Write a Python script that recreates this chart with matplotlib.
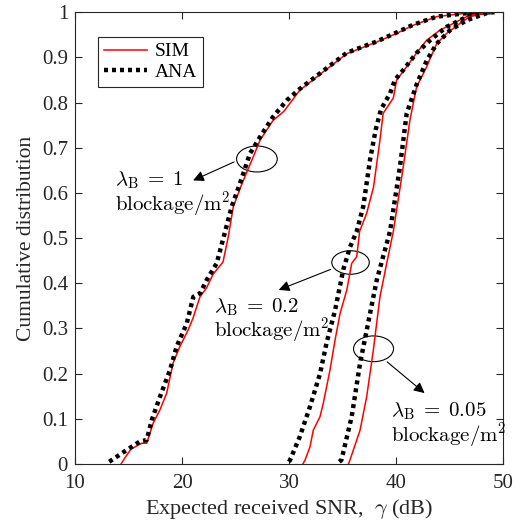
import matplotlib
matplotlib.use("Agg")
import matplotlib.pyplot as plt
from matplotlib.patches import Ellipse

plt.rcParams.update({
    "font.family": "Liberation Serif",
    "mathtext.fontset": "cm",
    "font.size": 15,
    "axes.linewidth": 0.8,
    "xtick.direction": "in",
    "ytick.direction": "in",
    "xtick.top": True,
    "ytick.right": True,
})

# ---- data (SNR in dB, CDF) ----
sim1_x = [14.3, 14.7, 15.23, 16.23, 16.7, 17.3, 17.94, 18.57, 19.16, 19.8, 20.56, 21.03,
          21.68, 22.3, 22.9, 23.83, 24.3, 24.8, 25.6, 26.66, 27.3, 28.5, 29.5, 31.0,
          33.2, 35.4, 38.2, 40.06, 41.6, 43.8, 46.3, 49.07]
sim1_y = [0, 0.015, 0.033, 0.046, 0.046, 0.09, 0.12, 0.157, 0.223, 0.26, 0.296, 0.323,
          0.37, 0.39, 0.42, 0.447, 0.5, 0.57, 0.62, 0.68, 0.717, 0.76, 0.78, 0.827,
          0.868, 0.908, 0.934, 0.953, 0.971, 0.99, 0.997, 1.0]
ana1_x = [13.2, 14.83, 16.07, 16.7, 17.17, 17.94, 18.88, 19.5, 20.44, 21.06, 21.7, 22.3,
          23.24, 23.9, 24.65, 25.4, 26.35, 27.3, 28.5, 29.8, 31.0, 33.2, 35.4, 38.2,
          40.06, 41.6, 43.8, 46.3, 49.07]
ana1_y = [0.005, 0.031, 0.05, 0.053, 0.097, 0.149, 0.208, 0.26, 0.311, 0.37, 0.378, 0.407,
          0.444, 0.503, 0.57, 0.62, 0.687, 0.724, 0.768, 0.805, 0.83, 0.87, 0.91, 0.935,
          0.955, 0.972, 0.99, 0.997, 1.0]

sim02_x = [31.3, 31.5, 31.96, 32.27, 32.9, 33.2, 33.83, 34.3, 34.77, 35.4, 35.86, 36.33,
           36.6, 37.26, 37.9, 38.5, 38.8, 39.75, 40.06, 41.0, 41.9, 42.87, 44.1, 45.36,
           46.6, 47.85, 49.0]
sim02_y = [0, 0.009, 0.038, 0.075, 0.105, 0.134, 0.208, 0.274, 0.333, 0.385, 0.444, 0.459,
           0.515, 0.555, 0.613, 0.717, 0.776, 0.81, 0.85, 0.879, 0.909, 0.938, 0.96, 0.975,
           0.99, 0.998, 1.0]
ana02_x = [30.0, 30.1, 31.0, 31.96, 32.9, 33.5, 34.3, 35.07, 35.7, 36.33, 36.94, 37.57,
           38.1, 38.6, 39.44, 39.9, 40.68, 41.9, 43.2, 44.7, 45.98, 47.2, 48.5]
ana02_y = [0.005, 0.009, 0.06, 0.127, 0.2, 0.267, 0.34, 0.43, 0.48, 0.515, 0.57, 0.673,
           0.74, 0.785, 0.82, 0.85, 0.872, 0.909, 0.938, 0.967, 0.982, 0.997, 1.0]

sim005_x = [35.55, 35.7, 36.64, 37.26, 37.88, 38.5, 39.13, 39.75, 40.68, 41.3, 41.93,
            42.87, 43.18, 43.8, 44.74, 45.98, 46.9, 48.5, 49.3]
sim005_y = [0, 0.009, 0.075, 0.149, 0.252, 0.37, 0.444, 0.515, 0.658, 0.761, 0.835,
            0.879, 0.897, 0.93, 0.953, 0.975, 0.99, 0.998, 1.0]
ana005_x = [34.7, 34.9, 35.86, 36.64, 37.26, 38.2, 39.13, 39.44, 40.37, 41.0, 41.93,
            42.87, 43.8, 45.05, 46.6, 48.5, 49.2]
ana005_y = [0.005, 0.009, 0.105, 0.223, 0.296, 0.407, 0.488, 0.515, 0.658, 0.776, 0.84,
            0.893, 0.93, 0.96, 0.982, 0.998, 1.0]

x_ticks = [10, 20, 30, 40, 50]
y_ticks = [0, 0.1, 0.2, 0.3, 0.4, 0.5, 0.6, 0.7, 0.8, 0.9, 1]
y_ticklabels = ["0", "0.1", "0.2", "0.3", "0.4", "0.5", "0.6", "0.7", "0.8", "0.9", "1"]

fig = plt.figure(figsize=(5.26, 5.27), dpi=100)
ax = fig.add_axes([0.1426, 0.1195, 0.8137, 0.8575])

sim_kw = dict(color="red", linewidth=1.1)
ana_kw = dict(color="black", linewidth=3.2, linestyle=(0, (0.9, 0.9)), dash_capstyle="butt")

ax.plot(sim1_x, sim1_y, label="SIM", **sim_kw)
ax.plot(ana1_x, ana1_y, label="ANA", **ana_kw)
ax.plot(sim02_x, sim02_y, **sim_kw)
ax.plot(ana02_x, ana02_y, **ana_kw)
ax.plot(sim005_x, sim005_y, **sim_kw)
ax.plot(ana005_x, ana005_y, **ana_kw)

ax.set_xlim(10, 50)
ax.set_ylim(0, 1)
ax.set_xticks(x_ticks)
ax.set_yticks(y_ticks)
ax.set_yticklabels(y_ticklabels)
ax.tick_params(length=5, width=0.8, colors="0.15", labelcolor="0.15", labelsize=15)
ax.tick_params(axis="x", pad=7)
ax.tick_params(axis="y", pad=5)
for s in ax.spines.values():
    s.set_color("0.15")

ax.set_xlabel(r"Expected received SNR,  $\gamma$ (dB)", fontsize=16, color="0.15", labelpad=3)
ax.set_ylabel("Cumulative distribution", fontsize=15.5, color="0.15")

leg = ax.legend(loc="upper left", bbox_to_anchor=(0.054, 0.945), fontsize=14,
                fancybox=False, edgecolor="0.15", framealpha=1, handlelength=2.2,
                borderpad=0.3, labelspacing=0.15, handletextpad=0.4, borderaxespad=0)
leg.get_frame().set_linewidth(0.8)

# annotations
arrow_kw = dict(arrowstyle="-|>", color="black", lw=0.8, mutation_scale=16)
for center, w, h in [((27.0, 0.675), 3.8, 0.0575),
                     ((35.75, 0.446), 3.5, 0.052),
                     ((37.9, 0.255), 3.74, 0.057)]:
    ax.add_patch(Ellipse(center, w, h, fill=False, edgecolor="black", lw=0.8))

ax.annotate("", xy=(20.8, 0.625), xytext=(25.1, 0.671), arrowprops=arrow_kw)
ax.annotate("", xy=(28.8, 0.383), xytext=(34.14, 0.433), arrowprops=arrow_kw)
ax.annotate("", xy=(42.87, 0.153), xytext=(38.97, 0.23), arrowprops=arrow_kw)

txt_kw = dict(fontsize=15, ha="left", va="center")
ax.text(13.74, 0.628, r"$\lambda_{\rm B} \;=\; 1$", **txt_kw)
ax.text(13.74, 0.575, r"$\mathrm{blockage/m^2}$", **txt_kw)
ax.text(23.0, 0.348, r"$\lambda_{\rm B} \;=\; 0.2$", **txt_kw)
ax.text(23.0, 0.295, r"$\mathrm{blockage/m^2}$", **txt_kw)
ax.text(39.53, 0.116, r"$\lambda_{\rm B} \;=\; 0.05$", **txt_kw)
ax.text(39.53, 0.063, r"$\mathrm{blockage/m^2}$", **txt_kw)

fig.savefig("out.png", dpi=100)
